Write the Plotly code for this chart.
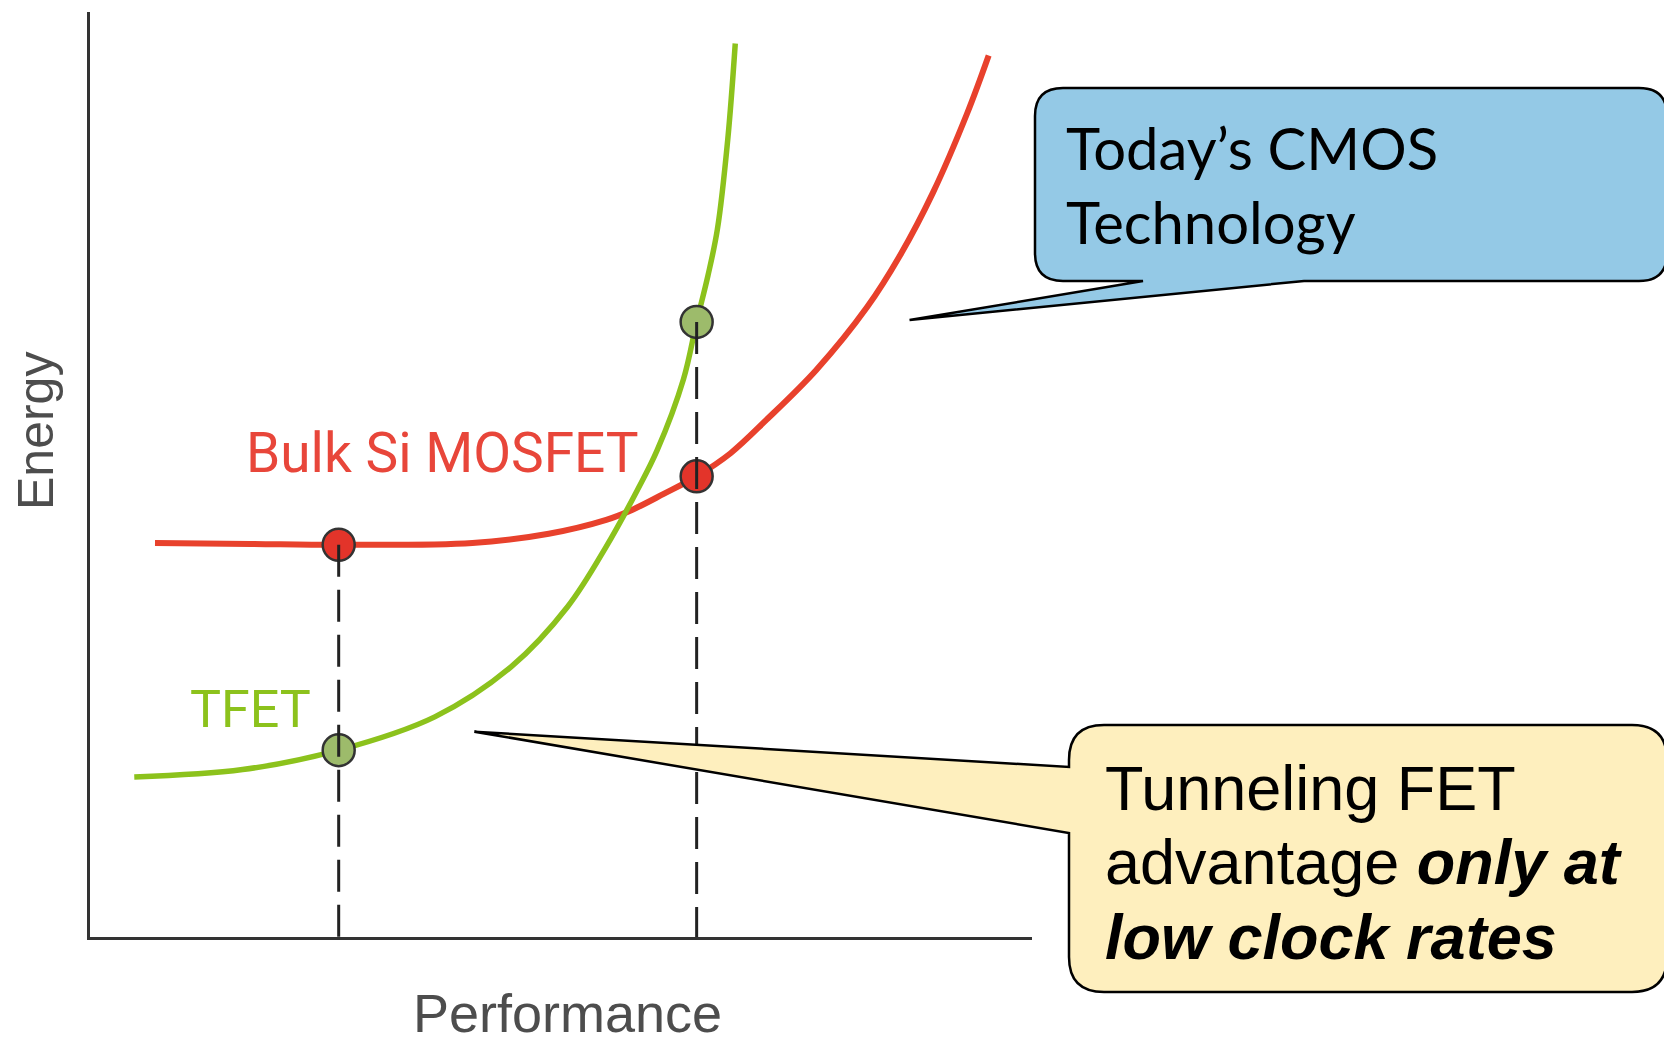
import plotly.graph_objects as go

PAGE_W, PAGE_H = 1672, 1045
OFF = 8  # the html page puts the figure 8px in from the corner
W, H = PAGE_W - OFF, PAGE_H - OFF

# curves (performance / energy, arbitrary units 0-10)
perf_mosfet = [0.69, 1.70, 2.64, 4.06, 4.87, 5.48, 5.76, 6.09, 6.44, 6.80, 7.18, 7.71, 8.25, 8.60, 8.95, 9.31, 9.54]
energy_mosfet = [4.26, 4.25, 4.24, 4.26, 4.36, 4.51, 4.62, 4.79, 4.98, 5.23, 5.59, 6.13, 6.81, 7.37, 8.05, 8.90, 9.53]

perf_tfet = [0.47, 1.62, 2.64, 3.66, 4.47, 5.07, 5.48, 5.81, 6.02, 6.30, 6.44, 6.56, 6.66, 6.77, 6.85]
energy_tfet = [1.73, 1.81, 2.02, 2.38, 2.92, 3.57, 4.22, 4.83, 5.26, 6.03, 6.65, 7.15, 7.65, 8.62, 9.66]

# operating points compared
op_perf = [2.64, 6.44]
op_energy_mosfet = [4.24, 4.98]
op_energy_tfet = [2.02, 6.65]

# where the callouts point (data units)
tip_cmos = (8.70, 6.67)
tip_tfet = (4.08, 2.22)

# plot box in page pixels
X0, X1, YB, YT = 90, 1032, 937, 12

RED = '#e8412c'
GREEN = '#8cc21c'
GREY = '#4d4d4d'


def fx(px):
    return (px - OFF) / W


def fy(py):
    return 1 - (py - OFF) / H


def data_to_px(x, y):
    return X0 + x / 10 * (X1 - X0), YB - y / 10 * (YB - YT)


def callout_path(x0, y0, x1, y1, r, side, base_a, base_b, tip):
    # rounded box with a pointer, clockwise from top-left, in page pixels
    tx, ty = tip
    pts = [f"M {fx(x0 + r)} {fy(y0)}",
           f"L {fx(x1 - r)} {fy(y0)}",
           f"Q {fx(x1)} {fy(y0)} {fx(x1)} {fy(y0 + r)}",
           f"L {fx(x1)} {fy(y1 - r)}",
           f"Q {fx(x1)} {fy(y1)} {fx(x1 - r)} {fy(y1)}"]
    if side == 'bottom':
        pts += [f"L {fx(base_b)} {fy(y1)}",
                f"L {fx(tx)} {fy(ty)}",
                f"L {fx(base_a)} {fy(y1)}"]
    pts += [f"L {fx(x0 + r)} {fy(y1)}",
            f"Q {fx(x0)} {fy(y1)} {fx(x0)} {fy(y1 - r)}"]
    if side == 'left':
        pts += [f"L {fx(x0)} {fy(base_b)}",
                f"L {fx(tx)} {fy(ty)}",
                f"L {fx(x0)} {fy(base_a)}"]
    pts += [f"L {fx(x0)} {fy(y0 + r)}",
            f"Q {fx(x0)} {fy(y0)} {fx(x0 + r)} {fy(y0)}",
            "Z"]
    return " ".join(pts)


fig = go.Figure()

fig.add_trace(go.Scatter(x=perf_mosfet, y=energy_mosfet, mode='lines',
                         line=dict(color=RED, width=6, shape='spline', smoothing=1.0),
                         hoverinfo='skip'))
fig.add_trace(go.Scatter(x=perf_tfet, y=energy_tfet, mode='lines',
                         line=dict(color=GREEN, width=5.5, shape='spline', smoothing=1.0),
                         hoverinfo='skip'))

fig.add_trace(go.Scatter(x=op_perf, y=op_energy_mosfet, mode='markers',
                         marker=dict(size=32, color='#e3342a', line=dict(color='#333333', width=2.5))))
fig.add_trace(go.Scatter(x=op_perf, y=op_energy_tfet, mode='markers',
                         marker=dict(size=32, color='#9dbb6b', line=dict(color='#333333', width=2.5))))

# dashed drop lines from the upper point of each pair down to the axis
for xp, ytop in zip(op_perf, [op_energy_mosfet[0], op_energy_tfet[1]]):
    fig.add_trace(go.Scatter(x=[xp, xp], y=[ytop, 0], mode='lines',
                             line=dict(color='#222222', width=3, dash='32px,13px'),
                             hoverinfo='skip'))

# callouts
bx, by = data_to_px(*tip_cmos)
fig.add_shape(type='path', xref='paper', yref='paper', layer='above',
              path=callout_path(1035, 88, 1667, 281, 28, 'bottom', 1143, 1304, (bx, by)),
              fillcolor='#94c9e6', line=dict(color='black', width=2.5))
yx, yy = data_to_px(*tip_tfet)
fig.add_shape(type='path', xref='paper', yref='paper', layer='above',
              path=callout_path(1069, 725, 1667, 992, 35, 'left', 767, 833, (yx, yy)),
              fillcolor='#feefbe', line=dict(color='black', width=2.5))

annotations = [
    dict(text='Bulk Si MOSFET', x=3.745, y=5.23, xref='x', yref='y',
         font=dict(family='Roboto', size=55, color='#e8463a')),
    dict(text='TFET', x=1.70, y=2.46, xref='x', yref='y',
         font=dict(family='Roboto', size=52, color=GREEN)),
    dict(text='Energy', x=fx(36), y=fy(431), xref='paper', yref='paper', textangle=-90,
         font=dict(family='Liberation Sans', size=50, color=GREY)),
    dict(text='Performance', x=fx(567), y=0, xref='paper', yref='paper', yanchor='bottom',
         font=dict(family='Liberation Sans', size=54, color=GREY)),
    dict(text='Today’s CMOS', x=fx(1064), y=fy(147), xref='paper', yref='paper', xanchor='left',
         font=dict(family='Lato', size=58, color='black')),
    dict(text='Technology', x=fx(1064), y=fy(222), xref='paper', yref='paper', xanchor='left',
         font=dict(family='Lato', size=58, color='black')),
    dict(text='Tunneling FET', x=fx(1103), y=fy(788), xref='paper', yref='paper', xanchor='left',
         font=dict(family='Liberation Sans', size=63, color='black')),
    dict(text='advantage <b><i>only at</i></b>', x=fx(1103), y=fy(862), xref='paper', yref='paper',
         xanchor='left', font=dict(family='Liberation Sans', size=63, color='black')),
    dict(text='<b><i>low clock rates</i></b>', x=fx(1103), y=fy(937), xref='paper', yref='paper',
         xanchor='left', font=dict(family='Liberation Sans', size=63, color='black')),
]
for a in annotations:
    a.setdefault('xanchor', 'center')
    a.setdefault('yanchor', 'middle')
    fig.add_annotation(showarrow=False, **a)

fig.update_layout(
    width=W, height=H,
    margin=dict(l=0, r=0, t=0, b=0),
    paper_bgcolor='white', plot_bgcolor='white',
    showlegend=False,
    xaxis=dict(domain=[fx(X0), fx(X1)], range=[0, 10], showgrid=False, zeroline=False,
               showticklabels=False, ticks='', showline=True, linecolor='#333333', linewidth=3),
    yaxis=dict(domain=[fy(YB), fy(YT)], range=[0, 10], showgrid=False, zeroline=False,
               showticklabels=False, ticks='', showline=True, linecolor='#333333', linewidth=3),
)

fig.write_html("out.html")
